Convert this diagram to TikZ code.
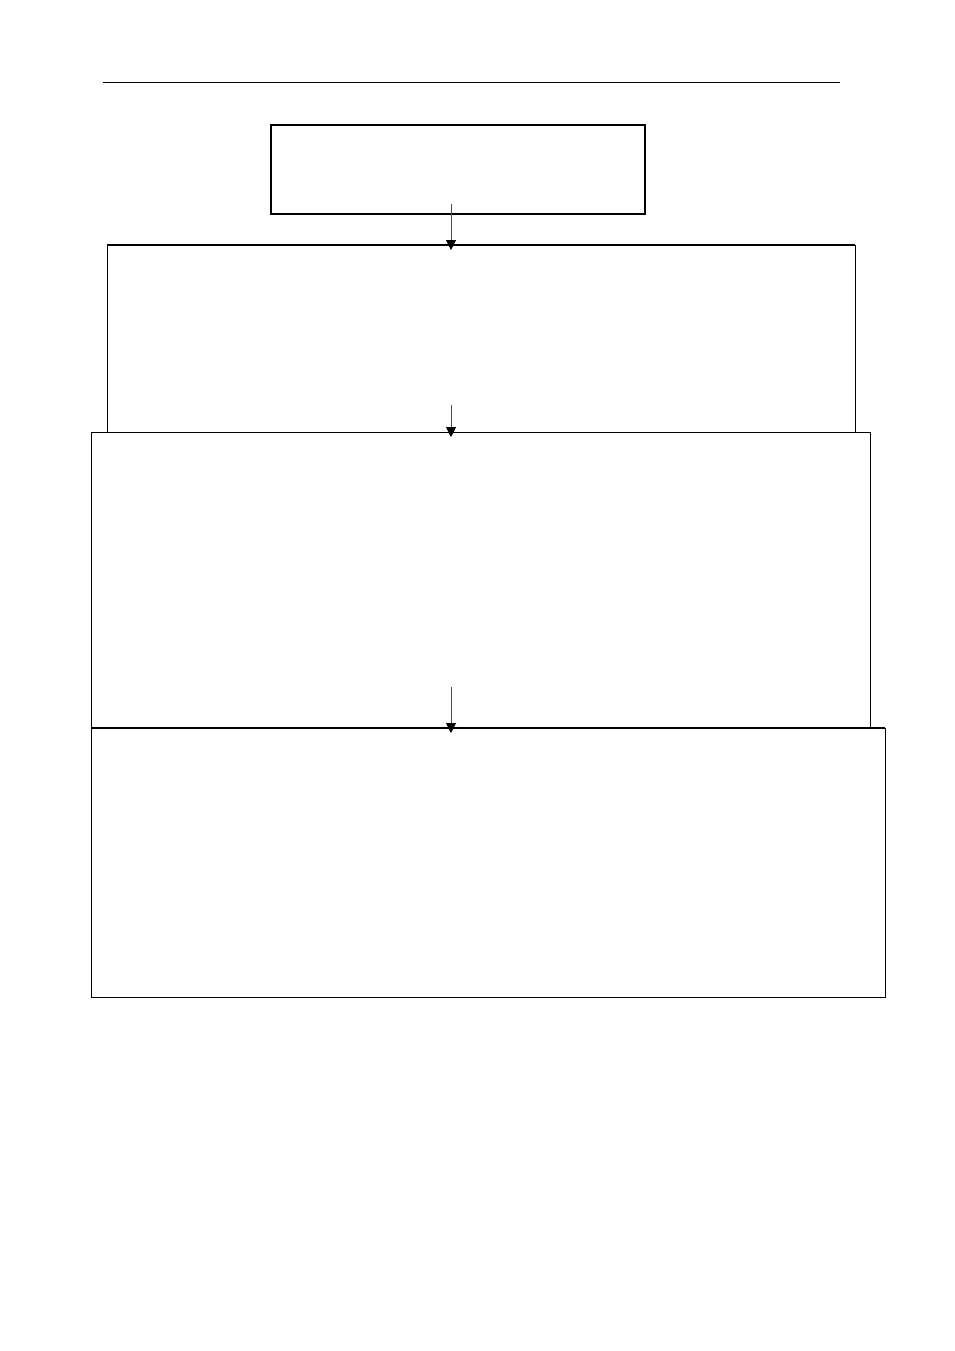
\documentclass[tikz,border=0pt]{standalone}
\usetikzlibrary{arrows.meta}
\begin{document}
\begin{tikzpicture}[x=1pt,y=-1pt,
  stagebox/.style={draw=black,line width=1pt,rectangle,inner sep=0pt,outer sep=0pt},
  flow/.style={draw=black!70,line width=1pt,-{Triangle[length=10pt,width=10pt,fill=black,color=black]}}]
\useasboundingbox[fill=white] (0,0) rectangle (954,1351);
% header rule
\draw[line width=0.8pt] (103,82) -- (840,82);
% boxes
\node[stagebox,minimum width=748pt,minimum height=187pt] (b2) at (481,338.5) {};
\node[stagebox,minimum width=779pt,minimum height=296pt] (b3) at (480.5,580) {};
\node[stagebox,minimum width=794pt,minimum height=269pt] (b4) at (488,862.5) {};
\node[stagebox,line width=1.8pt,minimum width=374pt,minimum height=89pt] (b1) at (458,169.5) {};
\draw[line width=1.8pt] (b2.north west) -- (b2.north east);
\draw[line width=2pt] (b4.north west) -- (b4.north east);
\coordinate (s1) at (451,204);
\coordinate (e1) at (451,250);
\coordinate (s2) at (451,405);
\coordinate (e2) at (451,437);
\coordinate (s3) at (451,687);
\coordinate (e3) at (451,733);
\draw[flow] (s1) -- (e1);
\draw[flow] (s2) -- (e2);
\draw[flow] (s3) -- (e3);
\end{tikzpicture}
\end{document}
